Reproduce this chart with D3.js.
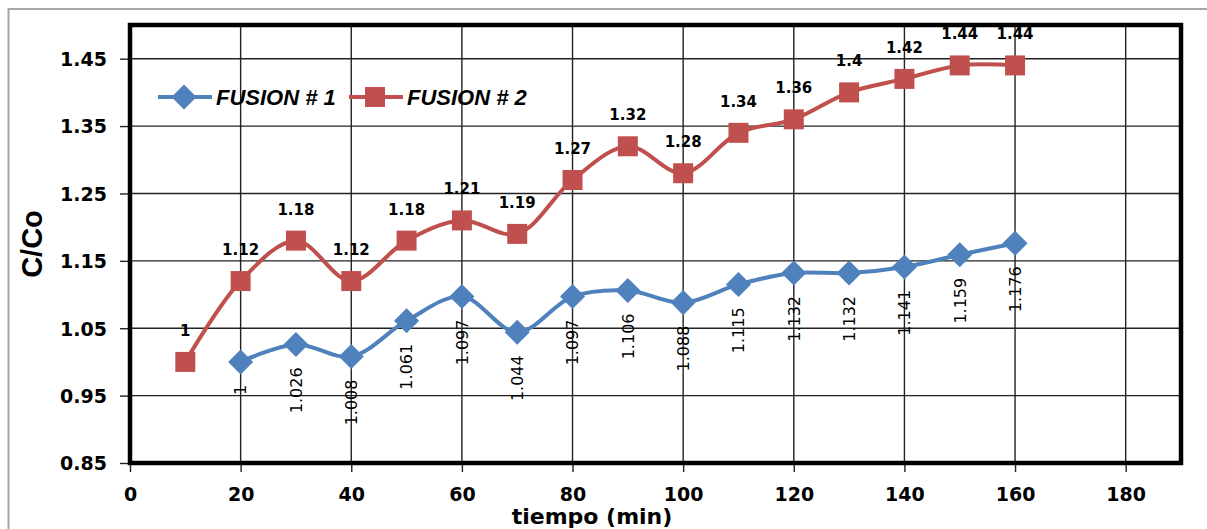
<!DOCTYPE html>
<html>
<head>
<meta charset="utf-8">
<script src="https://cdn.jsdelivr.net/npm/d3@7"></script>
<style>
  html, body { margin: 0; padding: 0; background: #fff; }
  svg { display: block; }
</style>
</head>
<body>
<svg id="chart" width="1207" height="529"></svg>
<script>
// Series data: relative concentration C/Co against time (min)
const fusion1Time = [20, 30, 40, 50, 60, 70, 80, 90, 100, 110, 120, 130, 140, 150, 160];
const fusion1Values = [1, 1.026, 1.008, 1.061, 1.097, 1.044, 1.097, 1.106, 1.088, 1.115, 1.132, 1.132, 1.141, 1.159, 1.176];
const fusion2Time = [10, 20, 30, 40, 50, 60, 70, 80, 90, 100, 110, 120, 130, 140, 150, 160];
const fusion2Values = [1, 1.12, 1.18, 1.12, 1.18, 1.21, 1.19, 1.27, 1.32, 1.28, 1.34, 1.36, 1.4, 1.42, 1.44, 1.44];
const seriesNames = ["FUSION # 1", "FUSION # 2"];
const xTickValues = [0, 20, 40, 60, 80, 100, 120, 140, 160, 180];
const yTickValues = [0.85, 0.95, 1.05, 1.15, 1.25, 1.35, 1.45];

const blue = "#4F81BD";
const red = "#C0504D";
const tickFont = "'DejaVu Sans', Verdana, sans-serif";

const svg = d3.select("#chart");
const plot = { left: 130, right: 1181, top: 25, bottom: 463 };

const x = d3.scaleLinear().domain([0, 190]).range([plot.left, plot.right]);
const y = d3.scaleLinear().domain([0.85, 1.5]).range([plot.bottom, plot.top]);

// outer chart frame
svg.append("rect")
  .attr("x", 8.5).attr("y", 9).attr("width", 1260).attr("height", 560)
  .attr("fill", "none").attr("stroke", "#a6a6a6").attr("stroke-width", 2);

// gridlines
const grid = svg.append("g");
grid.selectAll("line.v").data(xTickValues.filter(d => d > 0)).join("line")
  .attr("x1", d => x(d)).attr("x2", d => x(d))
  .attr("y1", plot.top).attr("y2", plot.bottom)
  .attr("stroke", "#222").attr("stroke-width", 1.4);
grid.selectAll("line.h").data(yTickValues.filter(d => d > 0.85)).join("line")
  .attr("y1", d => y(d)).attr("y2", d => y(d))
  .attr("x1", plot.left).attr("x2", plot.right)
  .attr("stroke", "#222").attr("stroke-width", 1.4);

// axes
const xAxis = svg.append("g")
  .attr("transform", `translate(0,${plot.bottom})`)
  .call(d3.axisBottom(x).tickValues(xTickValues).tickSize(9).tickPadding(16));
const yAxis = svg.append("g")
  .attr("transform", `translate(${plot.left},0)`)
  .call(d3.axisLeft(y).tickValues(yTickValues).tickFormat(d3.format(".2f")).tickSize(10).tickPadding(13));
[xAxis, yAxis].forEach(a => {
  a.select(".domain").remove();
  a.selectAll(".tick line").attr("stroke", "#222").attr("stroke-width", 1.4);
  a.selectAll(".tick text")
    .attr("font-family", tickFont).attr("font-weight", "bold")
    .attr("font-size", 19).attr("fill", "#000");
});
yAxis.selectAll(".tick text").attr("dy", "0.36em");

// plot area frame
svg.append("rect")
  .attr("x", plot.left).attr("y", plot.top)
  .attr("width", plot.right - plot.left).attr("height", plot.bottom - plot.top)
  .attr("fill", "none").attr("stroke", "#000").attr("stroke-width", 4.5);

// smoothed series lines
const line = d3.line().curve(d3.curveCatmullRom.alpha(0.5))
  .x(d => x(d[0])).y(d => y(d[1]));
const pts1 = fusion1Time.map((t, i) => [t, fusion1Values[i]]);
const pts2 = fusion2Time.map((t, i) => [t, fusion2Values[i]]);

svg.append("path").datum(pts2).attr("d", line)
  .attr("fill", "none").attr("stroke", red).attr("stroke-width", 4);
svg.append("path").datum(pts1).attr("d", line)
  .attr("fill", "none").attr("stroke", blue).attr("stroke-width", 4);

// markers
const diamond = d3.symbol().type(d3.symbolDiamond2).size(400);
const square = d3.symbol().type(d3.symbolSquare).size(400);
svg.append("g").selectAll("path").data(pts2).join("path")
  .attr("d", square).attr("fill", red)
  .attr("transform", d => `translate(${x(d[0])},${y(d[1])})`);
svg.append("g").selectAll("path").data(pts1).join("path")
  .attr("d", diamond).attr("fill", blue)
  .attr("transform", d => `translate(${x(d[0])},${y(d[1])})`);

// value labels
svg.append("g").selectAll("text").data(pts2).join("text")
  .attr("x", d => x(d[0])).attr("y", d => y(d[1]) - 26)
  .attr("text-anchor", "middle")
  .attr("font-family", tickFont).attr("font-weight", "bold").attr("font-size", 15)
  .text(d => String(d[1]));
svg.append("g").selectAll("text").data(pts1).join("text")
  .attr("transform", d => `translate(${x(d[0])},${y(d[1]) + 23}) rotate(-90)`)
  .attr("text-anchor", "end").attr("dy", "0.36em")
  .attr("font-family", tickFont).attr("font-size", 16)
  .text(d => String(d[1]));

// legend
const legend = svg.append("g");
const legendItems = [
  { name: seriesNames[0], color: blue, sym: diamond, x0: 158 },
  { name: seriesNames[1], color: red, sym: square, x0: 349 }
];
legendItems.forEach(it => {
  const ly = 97;
  legend.append("line")
    .attr("x1", it.x0).attr("x2", it.x0 + 54).attr("y1", ly).attr("y2", ly)
    .attr("stroke", it.color).attr("stroke-width", 4);
  legend.append("path").attr("d", it.sym).attr("fill", it.color)
    .attr("transform", `translate(${it.x0 + 26},${ly})`);
  legend.append("text")
    .attr("x", it.x0 + 58).attr("y", ly + 8)
    .attr("font-family", "'Liberation Sans', Arial, sans-serif")
    .attr("font-weight", "bold").attr("font-style", "italic").attr("font-size", 22)
    .text(it.name);
});

// axis titles
svg.append("text")
  .attr("x", 592).attr("y", 524).attr("text-anchor", "middle")
  .attr("font-family", tickFont).attr("font-weight", "bold").attr("font-size", 22)
  .text("tiempo (min)");
svg.append("text")
  .attr("transform", "translate(42,244) rotate(-90)").attr("text-anchor", "middle")
  .attr("font-family", "'Liberation Sans', Arial, sans-serif").attr("font-weight", "bold").attr("font-size", 29)
  .text("C/Co");
</script>
</body>
</html>
